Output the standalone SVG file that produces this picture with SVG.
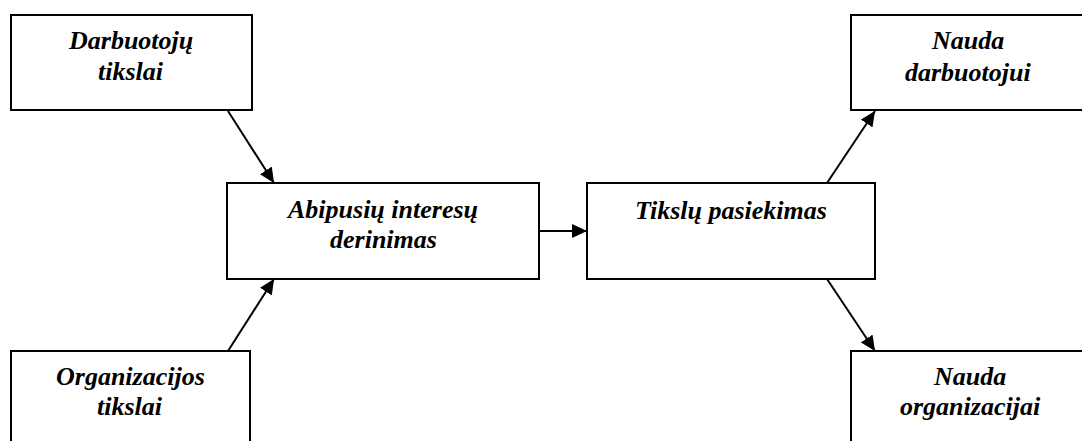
<svg xmlns="http://www.w3.org/2000/svg" width="1082" height="441" viewBox="0 0 1082 441">
  <defs>
    <marker id="arrow" markerUnits="userSpaceOnUse" markerWidth="16" markerHeight="14" refX="15" refY="7" orient="auto">
      <path d="M0,0 L15,7 L0,14 Z" fill="#000000"/>
    </marker>
  </defs>
  <rect width="1082" height="441" fill="#ffffff"/>

  <g id="connectors" stroke="#000000" stroke-width="2" fill="none">
    <line x1="228" y1="111" x2="274" y2="183" marker-end="url(#arrow)"/>
    <line x1="228" y1="351" x2="274" y2="279" marker-end="url(#arrow)"/>
    <line x1="539" y1="231" x2="587" y2="231" marker-end="url(#arrow)"/>
    <line x1="827" y1="183" x2="875" y2="111" marker-end="url(#arrow)"/>
    <line x1="827" y1="279" x2="875" y2="351" marker-end="url(#arrow)"/>
  </g>

  <g id="darbuotoju-tikslai">
    <rect x="11" y="15" width="241" height="95" fill="#ffffff" stroke="#000000" stroke-width="2"/>
    <text x="69" y="49" font-family="Liberation Serif" font-size="26" font-weight="bold" font-style="italic">Darbuotojų</text>
    <text x="98" y="80" font-family="Liberation Serif" font-size="26" font-weight="bold" font-style="italic">tikslai</text>
  </g>

  <g id="organizacijos-tikslai">
    <rect x="11" y="351" width="239" height="110" fill="#ffffff" stroke="#000000" stroke-width="2"/>
    <text x="56" y="385" font-family="Liberation Serif" font-size="26" font-weight="bold" font-style="italic">Organizacijos</text>
    <text x="97" y="415" font-family="Liberation Serif" font-size="26" font-weight="bold" font-style="italic">tikslai</text>
  </g>

  <g id="abipusiu-interesu-derinimas">
    <rect x="227" y="183" width="312" height="96" fill="#ffffff" stroke="#000000" stroke-width="2"/>
    <text x="288" y="218" font-family="Liberation Serif" font-size="26" font-weight="bold" font-style="italic">Abipusių interesų</text>
    <text x="330" y="248" font-family="Liberation Serif" font-size="26" font-weight="bold" font-style="italic">derinimas</text>
  </g>

  <g id="tikslu-pasiekimas">
    <rect x="587" y="183" width="288" height="96" fill="#ffffff" stroke="#000000" stroke-width="2"/>
    <text x="635" y="219" font-family="Liberation Serif" font-size="26" font-weight="bold" font-style="italic">Tikslų pasiekimas</text>
  </g>

  <g id="nauda-darbuotojui">
    <rect x="851" y="15" width="235" height="95" fill="#ffffff" stroke="#000000" stroke-width="2"/>
    <text x="932" y="49" font-family="Liberation Serif" font-size="26" font-weight="bold" font-style="italic">Nauda</text>
    <text x="905" y="81" font-family="Liberation Serif" font-size="26" font-weight="bold" font-style="italic">darbuotojui</text>
  </g>

  <g id="nauda-organizacijai">
    <rect x="851" y="351" width="240" height="110" fill="#ffffff" stroke="#000000" stroke-width="2"/>
    <text x="934" y="385" font-family="Liberation Serif" font-size="26" font-weight="bold" font-style="italic">Nauda</text>
    <text x="900" y="415" font-family="Liberation Serif" font-size="26" font-weight="bold" font-style="italic">organizacijai</text>
  </g>
</svg>
